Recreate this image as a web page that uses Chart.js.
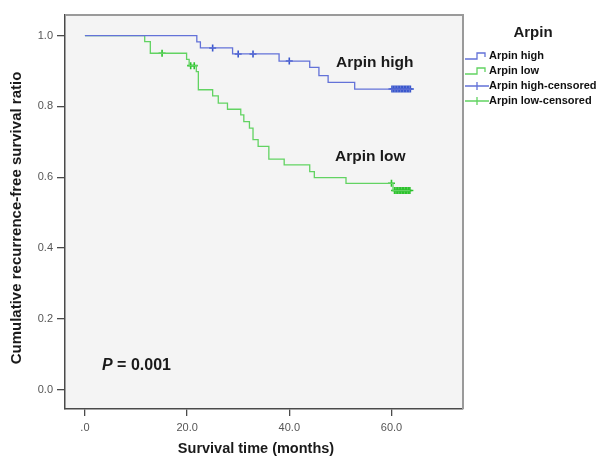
<!DOCTYPE html>
<html>
<head>
<meta charset="utf-8">
<script src="https://cdn.jsdelivr.net/npm/chart.js@4.4.1/dist/chart.umd.min.js"></script>
<style>
  body { margin: 0; background: #fff; }
  canvas { display: block; }
</style>
</head>
<body>
<canvas id="chart" width="604" height="457"></canvas>
<script>
// Dados (Kaplan-Meier)
const highTime = [0, 21.9, 22.6, 28.9, 38.0, 44.0, 45.8, 47.6, 52.8, 63.9];
const highSurv = [1.0, 0.982, 0.965, 0.948, 0.928, 0.910, 0.887, 0.868, 0.849, 0.849];
const highCensTime = [25.0, 30.0, 32.9, 40.0, 60.1, 60.4, 60.7, 61.0, 61.3, 61.6, 61.9, 62.2, 62.5, 62.8, 63.1, 63.4, 63.7];
const highCensSurv = [0.965, 0.948, 0.948, 0.928, 0.849, 0.849, 0.849, 0.849, 0.849, 0.849, 0.849, 0.849, 0.849, 0.849, 0.849, 0.849, 0.849];

const lowTime = [0, 11.7, 12.8, 19.9, 20.4, 21.8, 22.2, 25.0, 26.1, 27.9, 30.5, 31.1, 32.2, 32.9, 33.9, 36.0, 39.0, 44.0, 44.9, 51.1, 60.3, 63.6];
const lowSurv = [1.0, 0.983, 0.950, 0.933, 0.915, 0.898, 0.847, 0.830, 0.809, 0.792, 0.776, 0.757, 0.739, 0.706, 0.687, 0.651, 0.635, 0.616, 0.599, 0.583, 0.5625, 0.5625];
const lowCensTime = [15.1, 20.7, 21.4, 60.0, 60.6, 60.9, 61.2, 61.5, 61.8, 62.1, 62.4, 62.7, 63.0, 63.3, 63.6];
const lowCensSurv = [0.950, 0.915, 0.915, 0.583, 0.5625, 0.5625, 0.5625, 0.5625, 0.5625, 0.5625, 0.5625, 0.5625, 0.5625, 0.5625, 0.5625];

const xTicks = [0, 20, 40, 60];
const xTickLabels = [".0", "20.0", "40.0", "60.0"];
const yTicks = [0, 0.2, 0.4, 0.6, 0.8, 1.0];

const seriesNames = ["Arpin high", "Arpin low", "Arpin high-censored", "Arpin low-censored"];
const legendTitle = "Arpin";
const xTitle = "Survival time (months)";
const yTitle = "Cumulative recurrence-free survival ratio";

const blue = "#6372d8";
const green = "#62d362";
const blueDark = "#3a57cc";
const greenDark = "#2cc22c";

function pontos(xs, ys) {
  return xs.map((x, i) => ({ x: x, y: ys[i] }));
}

// Fundo, bordas, textos e legenda
const extras = {
  id: "extras",
  beforeDraw(chart) {
    const { ctx, chartArea: a } = chart;
    ctx.save();
    ctx.fillStyle = "#f4f4f4";
    ctx.fillRect(a.left, a.top, a.right - a.left, a.bottom - a.top);
    ctx.restore();
  },
  afterDraw(chart) {
    const { ctx, chartArea: a } = chart;
    ctx.save();

    // borda superior e direita
    ctx.strokeStyle = "#9a9a9a";
    ctx.lineWidth = 2;
    ctx.beginPath();
    ctx.moveTo(a.left, a.top);
    ctx.lineTo(a.right, a.top);
    ctx.lineTo(a.right, a.bottom);
    ctx.stroke();

    // rótulos dentro do gráfico
    ctx.fillStyle = "#1a1a1a";
    ctx.textBaseline = "middle";
    ctx.textAlign = "left";
    ctx.font = "bold 15.5px 'Liberation Sans', Arial, sans-serif";
    ctx.fillText("Arpin high", 336, 63);
    ctx.fillText("Arpin low", 335, 157);

    ctx.font = "italic bold 16px 'Liberation Sans', Arial, sans-serif";
    ctx.fillText("P", 102, 366);
    const wP = ctx.measureText("P").width;
    ctx.font = "bold 16px 'Liberation Sans', Arial, sans-serif";
    ctx.fillText(" = 0.001", 102 + wP, 366);

    // títulos dos eixos
    ctx.font = "bold 14.5px 'Liberation Sans', Arial, sans-serif";
    ctx.textAlign = "center";
    ctx.fillText(xTitle, 256, 449);
    ctx.save();
    ctx.translate(17, 218);
    ctx.rotate(-Math.PI / 2);
    ctx.font = "bold 15px 'Liberation Sans', Arial, sans-serif";
    ctx.fillText(yTitle, 0, 0);
    ctx.restore();

    // legenda
    ctx.font = "bold 15px 'Liberation Sans', Arial, sans-serif";
    ctx.fillText(legendTitle, 533, 33);
    ctx.textAlign = "left";
    ctx.font = "bold 11px 'Liberation Sans', Arial, sans-serif";
    const cores = [blue, green, blue, green];
    seriesNames.forEach((nome, i) => {
      const y = 56 + i * 15;
      ctx.strokeStyle = cores[i];
      ctx.lineWidth = 1.3;
      ctx.beginPath();
      if (i < 2) {
        ctx.moveTo(465, y + 3);
        ctx.lineTo(477, y + 3);
        ctx.lineTo(477, y - 3);
        ctx.lineTo(485, y - 3);
        ctx.lineTo(485, y + 1);
      } else {
        ctx.moveTo(465, y);
        ctx.lineTo(489, y);
        ctx.moveTo(477, y - 4);
        ctx.lineTo(477, y + 4);
      }
      ctx.stroke();
      ctx.fillStyle = "#111";
      ctx.fillText(nome, 489, y);
    });

    ctx.restore();
  }
};

const chart = new Chart(document.getElementById("chart"), {
  type: "line",
  data: {
    datasets: [
      {
        label: seriesNames[0],
        data: pontos(highTime, highSurv),
        borderColor: blue,
        borderWidth: 1.3,
        stepped: "before",
        pointRadius: 0
      },
      {
        label: seriesNames[1],
        data: pontos(lowTime, lowSurv),
        borderColor: green,
        borderWidth: 1.3,
        stepped: "before",
        pointRadius: 0
      },
      {
        label: seriesNames[2],
        data: pontos(highCensTime, highCensSurv),
        showLine: false,
        pointStyle: "cross",
        pointRadius: 3.5,
        borderColor: blueDark,
        borderWidth: 1.6
      },
      {
        label: seriesNames[3],
        data: pontos(lowCensTime, lowCensSurv),
        showLine: false,
        pointStyle: "cross",
        pointRadius: 3.5,
        borderColor: greenDark,
        borderWidth: 1.6
      }
    ]
  },
  options: {
    responsive: false,
    animation: false,
    layout: { padding: { top: 15, right: 141, left: 0, bottom: 0 } },
    plugins: {
      legend: { display: false },
      tooltip: { enabled: false }
    },
    scales: {
      x: {
        type: "linear",
        min: -3.9,
        max: 74,
        afterFit(scale) { scale.height = 48; },
        afterBuildTicks(scale) { scale.ticks = xTicks.map(v => ({ value: v })); },
        border: { display: true, color: "#4a4a4a", width: 1.5 },
        grid: { drawOnChartArea: false, drawTicks: true, tickLength: 7, color: "#4a4a4a", lineWidth: 1.3 },
        ticks: {
          color: "#555",
          padding: 5,
          maxRotation: 0,
          font: { family: "'Liberation Sans', Arial, sans-serif", size: 11 },
          callback: (v) => xTickLabels[xTicks.indexOf(v)]
        }
      },
      y: {
        type: "linear",
        min: -0.054,
        max: 1.058,
        afterFit(scale) { scale.width = 65; },
        afterBuildTicks(scale) { scale.ticks = yTicks.map(v => ({ value: v })); },
        border: { display: true, color: "#4a4a4a", width: 1.5 },
        grid: { drawOnChartArea: false, drawTicks: true, tickLength: 8, color: "#4a4a4a", lineWidth: 1.3 },
        ticks: {
          color: "#555",
          padding: 4,
          font: { family: "'Liberation Sans', Arial, sans-serif", size: 11 },
          callback: (v) => v.toFixed(1)
        }
      }
    }
  },
  plugins: [extras]
});
</script>
</body>
</html>
